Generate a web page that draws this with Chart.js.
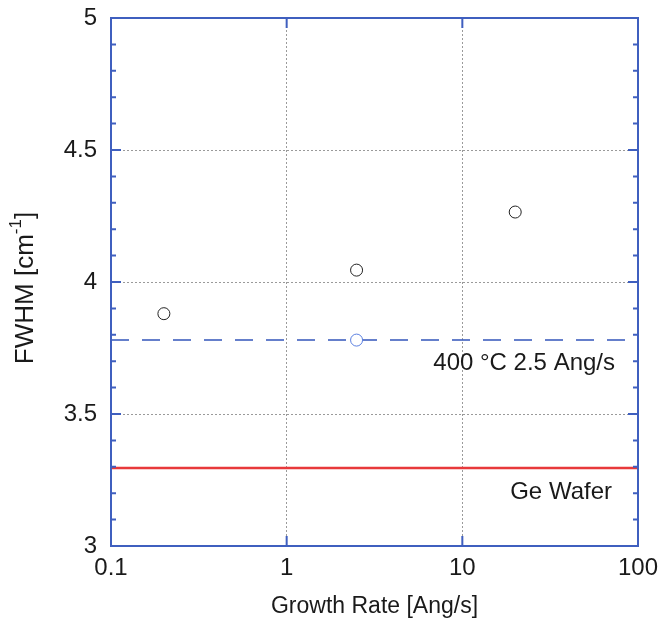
<!DOCTYPE html>
<html lang="en">
<head>
<meta charset="UTF-8">
<title>FWHM vs Growth Rate</title>
<style>
  body { margin: 0; background: #fff; }
  #wrap { width: 660px; height: 624px; }
</style>
</head>
<body>
<div id="wrap"><canvas id="myChart" width="660" height="624"></canvas></div>

<script src="https://cdn.jsdelivr.net/npm/chart.js"></script>
<script>
  // data
  const growthRate = [0.2, 2.5, 20];
  const fwhm = [3.88, 4.045, 4.265];
  const refRate = [2.5];
  const refFwhm = [3.78];
  const geWaferFwhm = 3.295;
  const xTicks = [0.1, 1, 10, 100];
  const yTicks = [3, 3.5, 4, 4.5, 5];
  const yMinorTicks = [3.1, 3.2, 3.3, 3.4, 3.6, 3.7, 3.8, 3.9, 4.1, 4.2, 4.3, 4.4, 4.6, 4.7, 4.8, 4.9];
  const refLabel = '400 °C 2.5 Ang/s';
  const waferLabel = 'Ge Wafer';

  const axisBlue = '#3f5fbf';
  const textCol = '#1a1a1a';
  const font = 'Liberation Sans, Arial, sans-serif';

  const xMin = xTicks[0], xMax = xTicks[xTicks.length - 1];

  const frame = {
    id: 'frame',
    afterDatasetsDraw(chart) {
      const ctx = chart.ctx;
      const a = chart.chartArea;
      const xs = chart.scales.x, ys = chart.scales.y;
      ctx.save();
      ctx.strokeStyle = axisBlue;
      ctx.lineWidth = 2;
      ctx.strokeRect(a.left, a.top, a.right - a.left, a.bottom - a.top);
      ctx.beginPath();
      yTicks.slice(1, -1).forEach(v => {
        const y = ys.getPixelForValue(v);
        ctx.moveTo(a.left, y); ctx.lineTo(a.left + 10, y);
        ctx.moveTo(a.right, y); ctx.lineTo(a.right - 10, y);
      });
      yMinorTicks.forEach(v => {
        const y = ys.getPixelForValue(v);
        ctx.moveTo(a.left, y); ctx.lineTo(a.left + 5, y);
        ctx.moveTo(a.right, y); ctx.lineTo(a.right - 5, y);
      });
      xTicks.slice(1, -1).forEach(v => {
        const x = xs.getPixelForValue(v);
        ctx.moveTo(x, a.bottom); ctx.lineTo(x, a.bottom - 10);
        ctx.moveTo(x, a.top); ctx.lineTo(x, a.top + 10);
      });
      ctx.stroke();

      // line labels
      ctx.fillStyle = textCol;
      ctx.font = '24px ' + font;
      ctx.textAlign = 'right';
      ctx.textBaseline = 'middle';
      ctx.fillText(refLabel, a.right - 23, ys.getPixelForValue(refFwhm[0]) + 23);
      ctx.fillText(waferLabel, a.right - 26, ys.getPixelForValue(geWaferFwhm) + 24);

      // y axis title with superscript
      ctx.translate(26, (a.top + a.bottom) / 2 + 6);
      ctx.rotate(-Math.PI / 2);
      const main = 'FWHM [cm', sup = '-1', end = ']';
      ctx.font = '26px ' + font;
      const w1 = ctx.measureText(main).width;
      const w3 = ctx.measureText(end).width;
      ctx.font = '17px ' + font;
      const w2 = ctx.measureText(sup).width;
      const x0 = -(w1 + w2 + w3) / 2;
      ctx.textAlign = 'left';
      ctx.font = '26px ' + font;
      ctx.fillText(main, x0, 0);
      ctx.font = '17px ' + font;
      ctx.fillText(sup, x0 + w1, -10);
      ctx.font = '26px ' + font;
      ctx.fillText(end, x0 + w1 + w2, 0);
      ctx.restore();
    }
  };

  const gridColor = (ctx) => {
    const v = ctx.tick && ctx.tick.value;
    const s = ctx.scale;
    return (v === s.min || v === s.max) ? 'rgba(0,0,0,0)' : '#9a9a9a';
  };

  new Chart(document.getElementById('myChart'), {
    type: 'scatter',
    data: {
      datasets: [
        {
          data: growthRate.map((r, i) => ({ x: r, y: fwhm[i] })),
          borderColor: '#222',
          backgroundColor: '#fff',
          borderWidth: 1,
          pointRadius: 6,
          order: 0
        },
        {
          data: refRate.map((r, i) => ({ x: r, y: refFwhm[i] })),
          borderColor: '#5a7fe0',
          backgroundColor: '#fff',
          borderWidth: 1,
          pointRadius: 6,
          order: 0
        },
        {
          type: 'line',
          data: [{ x: xMin, y: refFwhm[0] }, { x: xMax, y: refFwhm[0] }],
          borderColor: '#3355bb',
          borderWidth: 1.5,
          borderDash: [18, 13],
          pointRadius: 0,
          order: 1
        },
        {
          type: 'line',
          data: [{ x: xMin, y: geWaferFwhm }, { x: xMax, y: geWaferFwhm }],
          borderColor: '#e8393b',
          borderWidth: 2.5,
          pointRadius: 0,
          order: 1
        }
      ]
    },
    options: {
      responsive: false,
      animation: false,
      layout: { padding: { left: 0, right: 22, top: 18, bottom: 0 } },
      plugins: { legend: { display: false }, tooltip: { enabled: false } },
      scales: {
        x: {
          type: 'logarithmic',
          min: xMin,
          max: xMax,
          afterBuildTicks: (s) => { s.ticks = xTicks.map(v => ({ value: v })); },
          afterFit: (s) => { s.height = 78; s.paddingLeft = 0; s.paddingRight = 0; },
          ticks: {
            color: textCol,
            font: { family: font, size: 24 },
            padding: 8,
            maxRotation: 0,
            callback: (v) => String(v)
          },
          grid: { color: gridColor, drawTicks: false, lineWidth: 1 },
          border: { display: false, dash: [2, 2] },
          title: {
            display: true,
            text: 'Growth Rate [Ang/s]',
            color: textCol,
            font: { family: font, size: 23 },
            padding: { top: 0, bottom: 4 }
          }
        },
        y: {
          min: yTicks[0],
          max: yTicks[yTicks.length - 1],
          afterBuildTicks: (s) => { s.ticks = yTicks.map(v => ({ value: v })); },
          afterFit: (s) => { s.width = 111; s.paddingTop = 0; s.paddingBottom = 0; },
          ticks: {
            color: textCol,
            font: { family: font, size: 24 },
            padding: 14,
            callback: (v) => String(v)
          },
          grid: { color: gridColor, drawTicks: false, lineWidth: 1 },
          border: { display: false, dash: [2, 2] }
        }
      }
    },
    plugins: [frame]
  });
</script>
</body>
</html>
